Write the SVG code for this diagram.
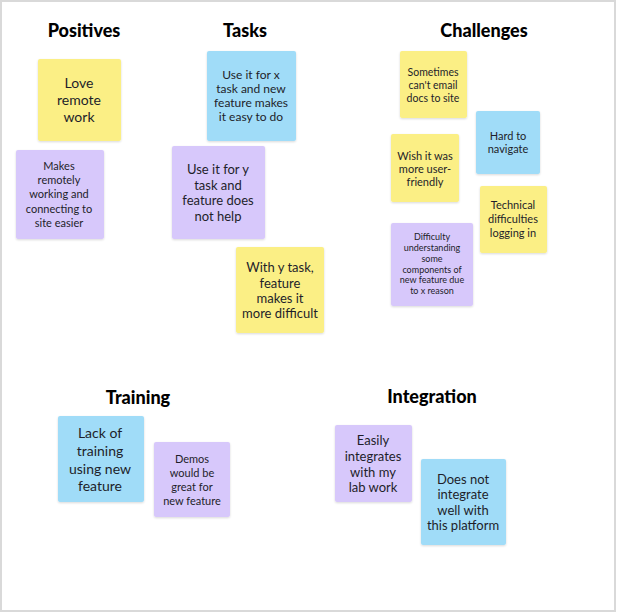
<svg xmlns="http://www.w3.org/2000/svg" width="617" height="613" viewBox="0 0 617 613">
<style>
.title{font-family:Lato,"Liberation Sans",sans-serif;font-weight:900;font-size:18px;fill:#000;text-anchor:middle}
.t{font-family:Lato,"Liberation Sans",sans-serif;fill:#1e1e2a;text-anchor:middle}
.y{fill:#fbef85}
.b{fill:#a0dcf8}
.p{fill:#d7c8fb}
.n{filter:url(#sh)}
</style>
<defs>
<filter id="sh" x="-10%" y="-10%" width="120%" height="125%">
<feDropShadow dx="0" dy="1" stdDeviation="1" flood-color="#000" flood-opacity="0.15"/>
</filter>
</defs>
<rect x="0" y="0" width="617" height="613" fill="#fff"/>
<rect x="1" y="1" width="614" height="610" fill="none" stroke="#d9d9d9" stroke-width="2"/>
<g id="titles">
<text class="title" x="84" y="37">Positives</text>
<text class="title" x="245" y="37">Tasks</text>
<text class="title" x="484" y="37">Challenges</text>
<text class="title" x="138" y="404">Training</text>
<text class="title" x="432" y="403">Integration</text>
</g>
<g id="connectors"/>
<g id="love-remote-work">
<rect class="n y" x="38" y="59" width="83" height="82" rx="2"/>
<text class="t" font-size="14"><tspan x="79" y="88">Love</tspan><tspan x="79" y="105">remote</tspan><tspan x="79" y="122">work</tspan></text>
</g>
<g id="makes-remotely">
<rect class="n p" x="16" y="150" width="88" height="89" rx="2"/>
<text class="t" font-size="11"><tspan x="59" y="170">Makes</tspan><tspan x="59" y="184">remotely</tspan><tspan x="59" y="198">working and</tspan><tspan x="59" y="213">connecting to</tspan><tspan x="59" y="227">site easier</tspan></text>
</g>
<g id="use-x">
<rect class="n b" x="207" y="51" width="89" height="90" rx="2"/>
<text class="t" font-size="12"><tspan x="251" y="79">Use it for x</tspan><tspan x="251" y="93">task and new</tspan><tspan x="251" y="107">feature makes</tspan><tspan x="251" y="121">it easy to do</tspan></text>
</g>
<g id="use-y">
<rect class="n p" x="172" y="146" width="93" height="93" rx="2"/>
<text class="t" font-size="13"><tspan x="218" y="174">Use it for y</tspan><tspan x="218" y="190">task and</tspan><tspan x="218" y="205">feature does</tspan><tspan x="218" y="221">not help</tspan></text>
</g>
<g id="with-y">
<rect class="n y" x="236" y="247" width="88" height="86" rx="2"/>
<text class="t" font-size="13"><tspan x="280" y="272">With y task,</tspan><tspan x="280" y="288">feature</tspan><tspan x="280" y="303">makes it</tspan><tspan x="280" y="318">more difficult</tspan></text>
</g>
<g id="sometimes">
<rect class="n y" x="400" y="51" width="67" height="67" rx="2"/>
<text class="t" font-size="10.5"><tspan x="433" y="76">Sometimes</tspan><tspan x="433" y="89">can't email</tspan><tspan x="433" y="102">docs to site</tspan></text>
</g>
<g id="hard-to-navigate">
<rect class="n b" x="476" y="111" width="64" height="63" rx="2"/>
<text class="t" font-size="11"><tspan x="508" y="140">Hard to</tspan><tspan x="508" y="153">navigate</tspan></text>
</g>
<g id="wish">
<rect class="n y" x="391" y="134" width="68" height="68" rx="2"/>
<text class="t" font-size="11"><tspan x="425" y="160">Wish it was</tspan><tspan x="425" y="173">more user-</tspan><tspan x="425" y="186">friendly</tspan></text>
</g>
<g id="technical">
<rect class="n y" x="480" y="186" width="67" height="67" rx="2"/>
<text class="t" font-size="11"><tspan x="513" y="209">Technical</tspan><tspan x="513" y="223">difficulties</tspan><tspan x="513" y="237">logging in</tspan></text>
</g>
<g id="difficulty">
<rect class="n p" x="391" y="223" width="82" height="83" rx="2"/>
<text class="t" font-size="9"><tspan x="432" y="240">Difficulty</tspan><tspan x="432" y="251">understanding</tspan><tspan x="432" y="262">some</tspan><tspan x="432" y="273">components of</tspan><tspan x="432" y="283">new feature due</tspan><tspan x="432" y="294">to x reason</tspan></text>
</g>
<g id="lack-of-training">
<rect class="n b" x="58" y="416" width="86" height="86" rx="2"/>
<text class="t" font-size="14"><tspan x="100" y="438">Lack of</tspan><tspan x="100" y="456">training</tspan><tspan x="100" y="474">using new</tspan><tspan x="100" y="491">feature</tspan></text>
</g>
<g id="demos">
<rect class="n p" x="154" y="442" width="76" height="75" rx="2"/>
<text class="t" font-size="11"><tspan x="192" y="463">Demos</tspan><tspan x="192" y="477">would be</tspan><tspan x="192" y="491">great for</tspan><tspan x="192" y="505">new feature</tspan></text>
</g>
<g id="easily-integrates">
<rect class="n p" x="335" y="425" width="77" height="77" rx="2"/>
<text class="t" font-size="13"><tspan x="373" y="445">Easily</tspan><tspan x="373" y="461">integrates</tspan><tspan x="373" y="477">with my</tspan><tspan x="373" y="492">lab work</tspan></text>
</g>
<g id="does-not-integrate">
<rect class="n b" x="421" y="459" width="85" height="86" rx="2"/>
<text class="t" font-size="13"><tspan x="463" y="484">Does not</tspan><tspan x="463" y="499">integrate</tspan><tspan x="463" y="515">well with</tspan><tspan x="463" y="530">this platform</tspan></text>
</g>
</svg>
